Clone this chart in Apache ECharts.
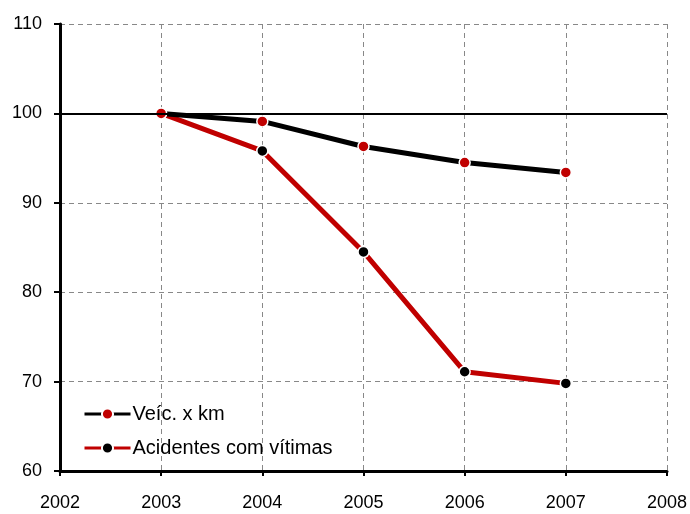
<!DOCTYPE html>
<html><head><meta charset="utf-8">
<script src="https://cdn.jsdelivr.net/npm/echarts@6/dist/echarts.min.js"></script>
<style>html,body{margin:0;padding:0;background:#fff}#c{width:690px;height:514px}</style>
</head><body><div id="c"></div>
<script>
const years = [2003, 2004, 2005, 2006, 2007];
const veicKm = [100, 99.1, 96.3, 94.5, 93.4];
const acidentes = [100, 95.8, 84.5, 71.1, 69.8];
const seriesNames = ['Veíc. x km', 'Acidentes com vítimas'];
const refValue = 100;

const FONT = '"Liberation Sans", Arial, sans-serif';
const RED = '#c00000';
const chart = echarts.init(document.getElementById('c'), null, {renderer: 'canvas'});
chart.setOption({
  animation: false,
  backgroundColor: '#fff',
  grid: {left: 60, right: 23, top: 24, bottom: 43, containLabel: false},
  legend: {
    orient: 'vertical', left: 78, top: 399, itemGap: 14,
    itemWidth: 46, itemHeight: 14,
    lineStyle: {width: 3},
    textStyle: {fontFamily: FONT, fontSize: 20, color: '#000', padding: [0,0,0,-3]},
    data: seriesNames
  },
  xAxis: {
    type: 'value', min: 2002, max: 2008, interval: 1,
    axisLine: {show: true, lineStyle: {color: '#000', width: 3}},
    axisTick: {show: true, length: 5, lineStyle: {color: '#000', width: 2}},
    axisLabel: {fontFamily: FONT, fontSize: 18, color: '#000', margin: 23, formatter: v => String(v)},
    splitLine: {show: true, lineStyle: {color: '#888', type: [5, 4], width: 1}}
  },
  yAxis: {
    type: 'value', min: 60, max: 110, interval: 10,
    axisLine: {show: true, onZero: false, lineStyle: {color: '#000', width: 3}},
    axisTick: {show: true, length: 6, lineStyle: {color: '#000', width: 2}},
    axisLabel: {fontFamily: FONT, fontSize: 18, color: '#000', margin: 18},
    splitLine: {show: true, lineStyle: {color: '#888', type: [5, 4], width: 1}}
  },
  series: [
    {
      name: seriesNames[0], type: 'line', z: 4,
      data: years.map((y, i) => [y, veicKm[i]]),
      lineStyle: {color: '#000', width: 5},
      symbol: 'circle', symbolSize: 11,
      itemStyle: {color: RED, borderColor: '#fff', borderWidth: 1.5},
      markLine: {
        silent: true, symbol: 'none', label: {show: false},
        lineStyle: {color: '#000', width: 2, type: 'solid'},
        data: [{yAxis: refValue}]
      }
    },
    {
      name: seriesNames[1], type: 'line', z: 3,
      data: years.map((y, i) => [y, acidentes[i]]),
      lineStyle: {color: RED, width: 5},
      symbol: 'circle', symbolSize: 11,
      itemStyle: {color: '#000', borderColor: '#fff', borderWidth: 1.5}
    }
  ]
});
</script></body></html>
